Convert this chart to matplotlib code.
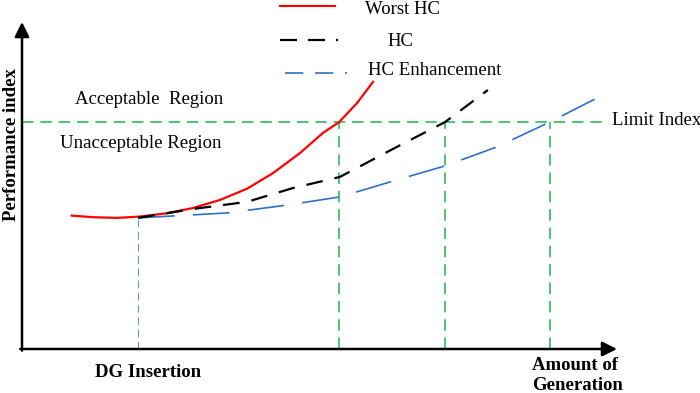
import numpy as np
import matplotlib
matplotlib.use("Agg")
import matplotlib.pyplot as plt

plt.rcParams['font.family'] = ['Liberation Serif', 'DejaVu Serif']

# curve points (amount of generation, performance index)
worst_x = [8.35, 11.9, 16.0, 19.8, 24.3, 28.7, 33.3, 37.8, 42.2, 46.7, 50.6, 53.3, 56.3, 59.0]
worst_y = [40.8, 40.3, 40.1, 40.5, 41.5, 43.1, 45.6, 49.0, 53.8, 59.9, 66.1, 69.4, 75.2, 81.7]

hc_x = [19.5, 28.7, 37.8, 45.5, 53.4, 63.0, 71.1, 78.3]
hc_y = [40.1, 42.8, 45.0, 49.2, 52.6, 61.8, 69.4, 79.2]

enh_x = [19.5, 34.5, 44.5, 53.4, 63.0, 71.1, 79.8, 88.7, 97.0]
enh_y = [40.1, 41.6, 44.0, 46.5, 51.7, 56.0, 61.8, 69.4, 77.1]

limit_index = 69.4
dg_insertion = 19.5
dg_level = 40.1
crossings = [53.3, 71.1, 88.7]   # where each curve hits the limit

legend_labels = ['Worst HC', 'HC', 'HC Enhancement']

fig = plt.figure(figsize=(7, 3.93), dpi=100)
ax = fig.add_axes([22/700, 44/393, 595/700, 327/393])
ax.set_xlim(0, 100)
ax.set_ylim(0, 100)
ax.axis('off')

green = '#22b14c'
blue = '#2e6fc9'
fs = 13.5

# axes with arrows
ax.annotate('', xy=(100, 0), xytext=(-0.3, 0),
            arrowprops=dict(arrowstyle='-|>', lw=1.8, color='black', mutation_scale=22, shrinkA=0, shrinkB=0))
ax.annotate('', xy=(0, 100), xytext=(0, -0.5),
            arrowprops=dict(arrowstyle='-|>', lw=1.8, color='black', mutation_scale=22, shrinkA=0, shrinkB=0))

# limit line and verticals
ax.plot([0, 98], [limit_index, limit_index], color=green, lw=1.1, dashes=(7.5, 4.5))
for cx in crossings:
    ax.plot([cx, cx], [0, limit_index], color=green, lw=1.1, dashes=(7.5, 4.5))
ax.plot([dg_insertion, dg_insertion], [0, dg_level], color='#5b9bd5', lw=0.8, dashes=(7, 4))

# curves
ax.plot(worst_x, worst_y, color='red', lw=1.6, solid_joinstyle='round')
ax.plot(enh_x, enh_y, color=blue, lw=1.2, dashes=(22, 11))
ax.plot(hc_x, hc_y, color='black', lw=1.6, dashes=(7.5, 5.4))

# legend drawn by hand above the plot
ax.plot([43.4, 52.6], [104.9, 104.9], color='red', lw=1.5, clip_on=False)
ax.plot([43.4, 53.1], [94.5, 94.5], color='black', lw=1.6, dashes=(7.65, 4.95), clip_on=False)
ax.plot([44.2, 54.6], [84.4, 84.4], color=blue, lw=1.2, dashes=(11, 7), clip_on=False)
ax.text(57.7, 102.4, legend_labels[0], fontsize=fs, va='baseline', ha='left')
ax.text(61.5, 92.6, legend_labels[1], fontsize=fs, va='baseline', ha='left')
ax.text(58.2, 83.8, legend_labels[2], fontsize=fs, va='baseline', ha='left')

# region labels
ax.text(8.9, 74.9, 'Acceptable  Region', fontsize=fs, va='baseline', ha='left')
ax.text(6.4, 61.5, 'Unacceptable Region', fontsize=fs, va='baseline', ha='left')
ax.text(99.2, 68.5, 'Limit Index', fontsize=fs, va='baseline', ha='left')

# axis labels
ax.text(12.3, -8.6, 'DG Insertion', fontsize=fs, fontweight='bold', va='baseline', ha='left')
ax.text(85.7, -6.4, 'Amount of', fontsize=fs, fontweight='bold', va='baseline', ha='left')
ax.text(85.7, -12.4, 'Generation', fontsize=fs, fontweight='bold', va='baseline', ha='left')
ax.text(-1.8, 62.4, 'Performance index', fontsize=fs, fontweight='bold', rotation=90, va='center', ha='center')

fig.savefig('out.png', dpi=100)
